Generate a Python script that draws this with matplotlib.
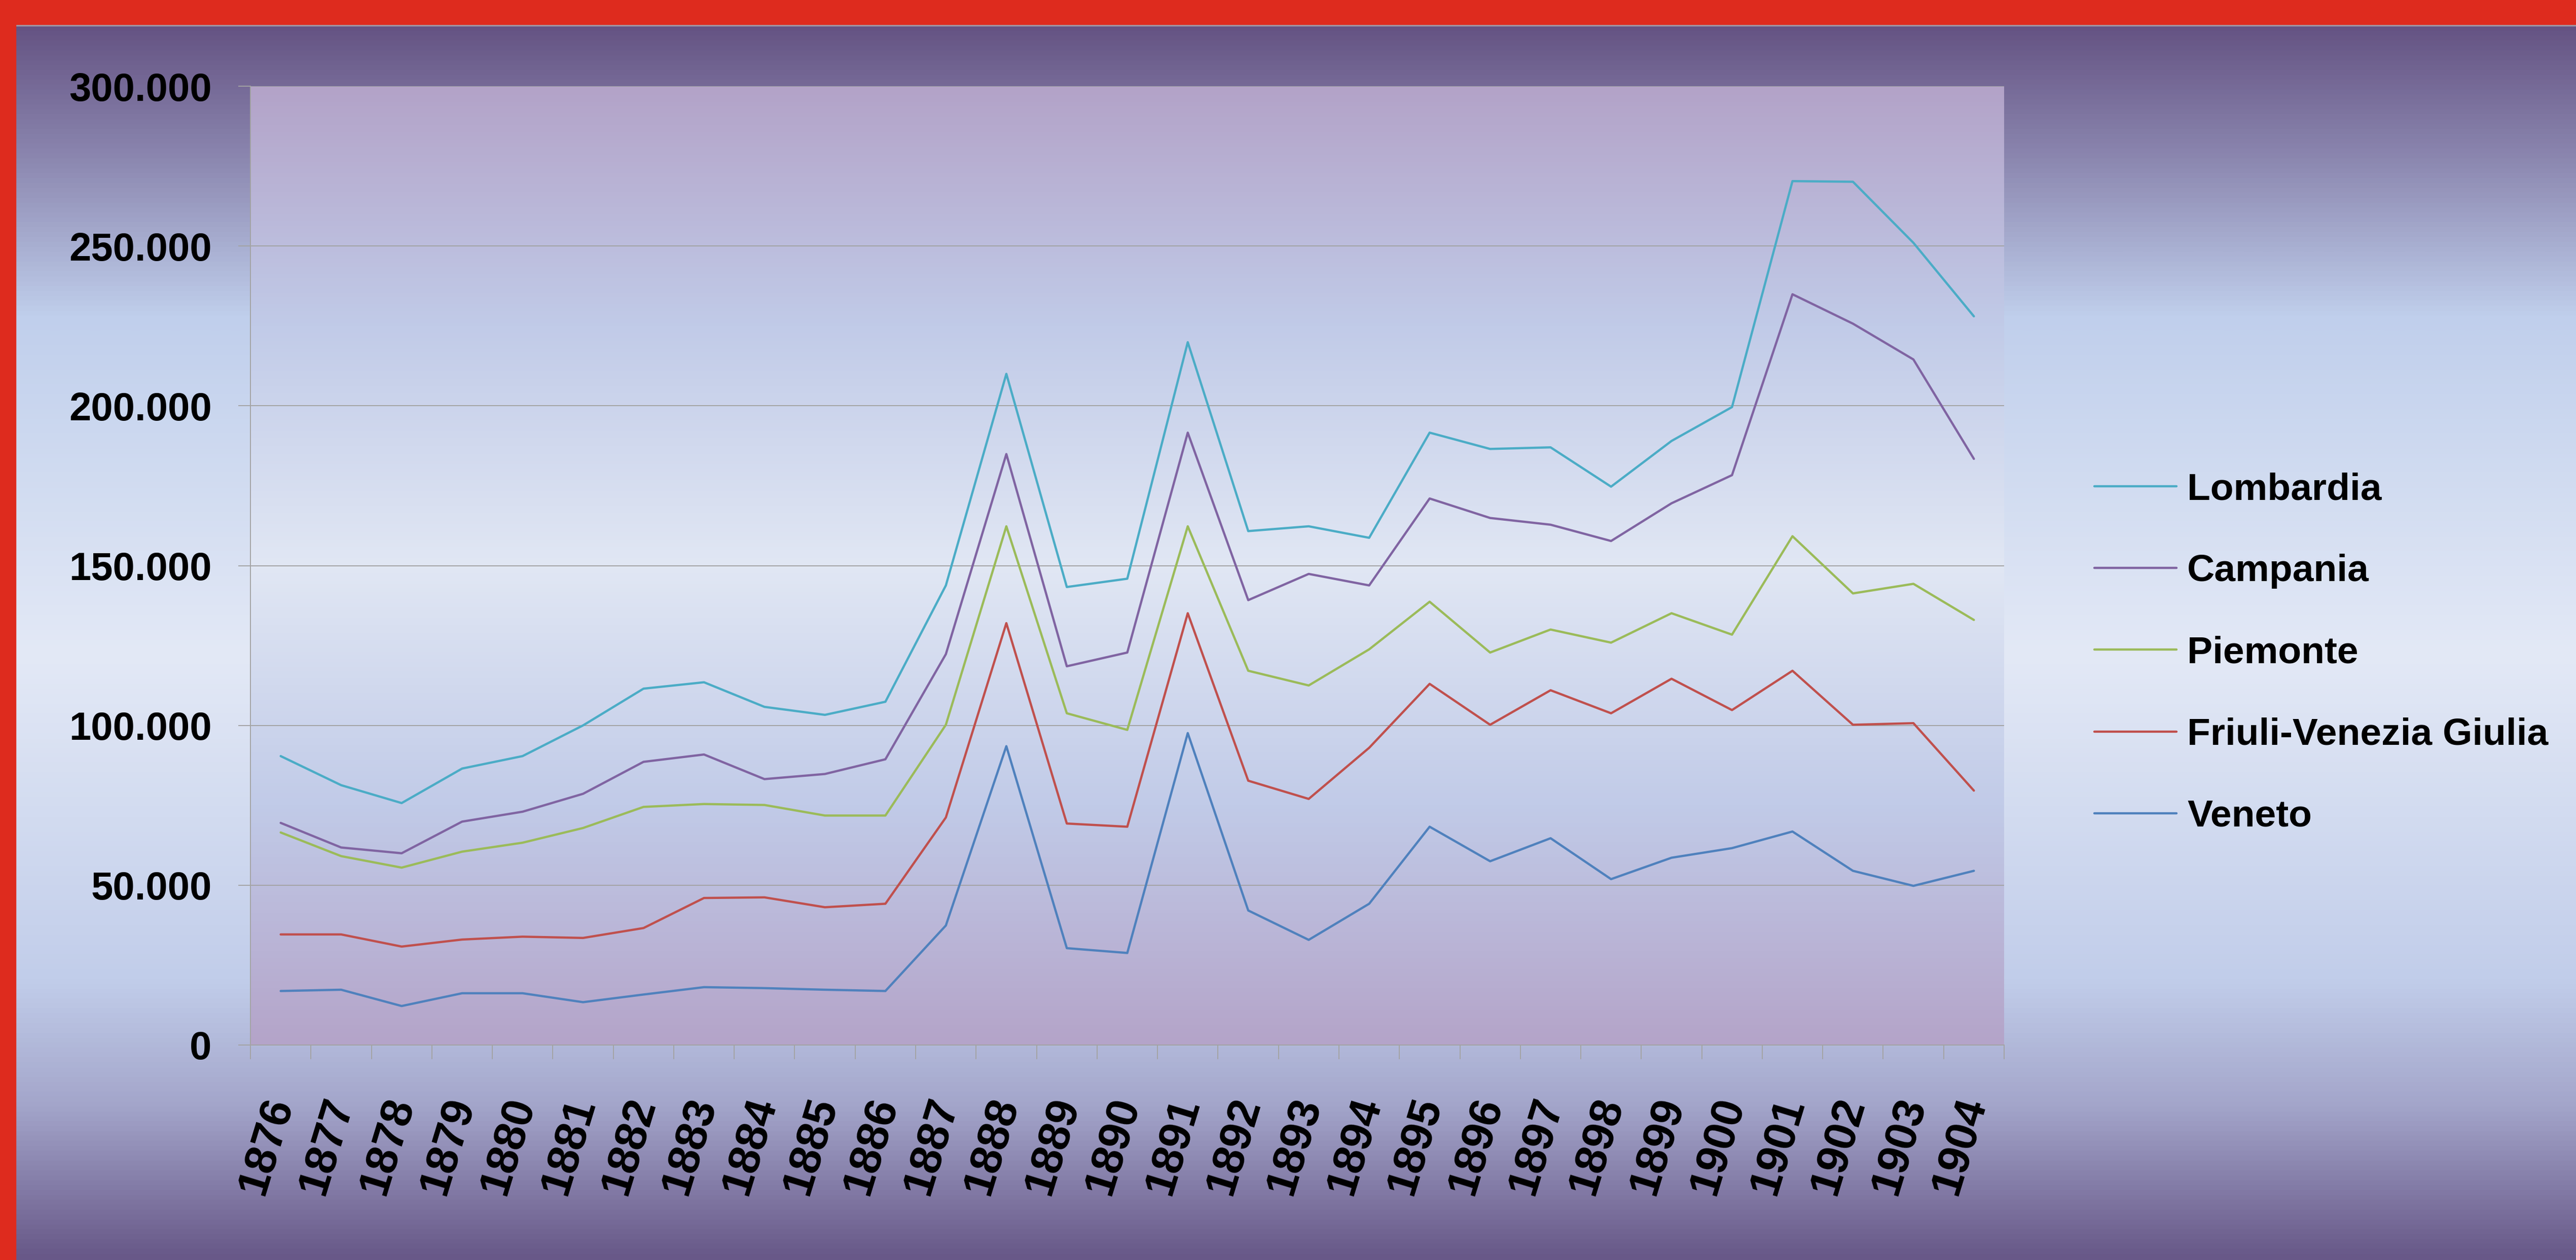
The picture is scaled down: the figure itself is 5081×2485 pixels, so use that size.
import numpy as np
import matplotlib.pyplot as plt
from matplotlib.colors import LinearSegmentedColormap
from matplotlib.patches import Rectangle
from matplotlib.ticker import FixedLocator, FuncFormatter
import matplotlib.transforms as mtransforms

years = ['1876', '1877', '1878', '1879', '1880', '1881', '1882', '1883', '1884', '1885',
         '1886', '1887', '1888', '1889', '1890', '1891', '1892', '1893', '1894', '1895',
         '1896', '1897', '1898', '1899', '1900', '1901', '1902', '1903', '1904']

lombardia = [90400, 81300, 75700, 86500, 90400, 100000, 111500, 113500, 105800, 103300,
             107400, 143800, 210000, 143300, 145900, 219900, 160800, 162300, 158700, 191600,
             186500, 187000, 174700, 189000, 199600, 270300, 270100, 251000, 228000]
campania = [69500, 61800, 60000, 69900, 73000, 78600, 88600, 90900, 83200, 84800,
            89400, 122300, 184900, 118500, 122800, 191600, 139200, 147400, 143800, 171000,
            164900, 162800, 157700, 169500, 178300, 234900, 225700, 214500, 183400]
piemonte = [66500, 59100, 55500, 60500, 63300, 67900, 74500, 75400, 75100, 71800,
            71800, 100200, 162300, 103800, 98600, 162300, 117100, 112500, 123800, 138700,
            122800, 130000, 125900, 135100, 128400, 159200, 141300, 144300, 133000]
friuli = [34600, 34600, 30800, 33000, 33900, 33500, 36600, 46000, 46200, 43100,
          44200, 71200, 132000, 69300, 68300, 135100, 82700, 77000, 93000, 113000,
          100200, 111000, 103800, 114600, 104800, 117100, 100200, 100700, 79600]
veneto = [16900, 17300, 12200, 16200, 16200, 13400, 15800, 18100, 17800, 17300,
          16900, 37400, 93500, 30300, 28800, 97600, 42100, 32900, 44200, 68300,
          57500, 64700, 51900, 58600, 61600, 66800, 54500, 49800, 54500]

series = [('Lombardia', lombardia, '#4bacc6'),
          ('Campania', campania, '#8064a2'),
          ('Piemonte', piemonte, '#9bbb59'),
          ('Friuli-Venezia Giulia', friuli, '#c0504d'),
          ('Veneto', veneto, '#4f81bd')]

W, H, DPI = 5081, 2485, 100
font = ['Liberation Sans', 'DejaVu Sans']

fig = plt.figure(figsize=(W / DPI, H / DPI), dpi=DPI)

# slide background gradient
bg = fig.add_axes([0, 0, 1, 1], zorder=-10)
bg_cmap = LinearSegmentedColormap.from_list('bg', [
    (0.0, '#5e4a7b'), (0.12, '#8a85ae'), (0.25, '#c0cfec'), (0.52, '#e3e9f6'),
    (0.78, '#c1cdea'), (0.88, '#a3a5ca'), (1.0, '#685888')])
bg.imshow(np.linspace(0, 1, 512).reshape(-1, 1), cmap=bg_cmap, aspect='auto',
          extent=[0, 1, 0, 1], interpolation='bilinear')
bg.set_axis_off()

# red frame at top and left
fig.patches.append(Rectangle((0, 1 - 48 / H), 1, 48 / H, transform=fig.transFigure,
                             color='#de2b1e', zorder=5))
fig.patches.append(Rectangle((0, 1 - 51 / H), 1, 3 / H, transform=fig.transFigure,
                             color='#a09aa8', zorder=4))
fig.patches.append(Rectangle((0, 0), 31 / W, 1, transform=fig.transFigure,
                             color='#de2b1e', zorder=5))

pos = [494 / W, 1 - 2061 / H, (3953 - 494) / W, (2061 - 170) / H]

# plot area gradient
pa = fig.add_axes(pos, zorder=-5)
pa_cmap = LinearSegmentedColormap.from_list('pa', [
    (0.0, '#b3a3c8'), (0.25, '#c1cbe8'), (0.5, '#e1e7f4'), (0.75, '#c1cbe8'), (1.0, '#b4a4c9')])
pa.imshow(np.linspace(0, 1, 512).reshape(-1, 1), cmap=pa_cmap, aspect='auto',
          extent=[0, 1, 0, 1], interpolation='bilinear')
pa.set_axis_off()

ax = fig.add_axes(pos)
ax.set_facecolor('none')
x = np.arange(len(years))
for name, vals, col in series:
    ax.plot(x, vals, color=col, linewidth=3.2, label=name, solid_joinstyle='round',
            solid_capstyle='round', zorder=3)

ax.set_xlim(-0.5, len(years) - 0.5)
ax.set_ylim(0, 300000)
ax.set_yticks(range(0, 300001, 50000))
ax.yaxis.set_major_formatter(FuncFormatter(lambda v, p: f'{int(v):,}'.replace(',', '.')))
ax.grid(axis='y', color='#a3a3a3', linewidth=1.4, zorder=1)
ax.set_axisbelow(True)

for s in ['top', 'right']:
    ax.spines[s].set_visible(False)
for s in ['left', 'bottom']:
    ax.spines[s].set_color('#a3a3a3')
    ax.spines[s].set_linewidth(1.4)

ax.tick_params(axis='y', length=17, width=1.4, color='#a3a3a3', pad=38)
for lab in ax.get_yticklabels():
    lab.set_family(font)
    lab.set_fontsize(56)
    lab.set_fontweight('bold')

ax.set_xticks(x)
ax.set_xticklabels(years, rotation=73, ha='center', va='top',
                   fontsize=63, fontweight='bold', family=font)
ax.xaxis.set_minor_locator(FixedLocator(np.arange(-0.5, len(years), 1)))
ax.tick_params(axis='x', which='major', length=0, pad=68)
ax.tick_params(axis='x', which='minor', length=20, width=1.4, color='#a3a3a3')
shift = mtransforms.ScaledTranslation(-28 / DPI, 0, fig.dpi_scale_trans)
for lab in ax.get_xticklabels():
    lab.set_transform(lab.get_transform() + shift)

leg = ax.legend(loc='center left', bbox_to_anchor=(4131 / W, 1 - 1288 / H),
                bbox_transform=fig.transFigure, frameon=False, borderpad=0,
                borderaxespad=0, handlelength=2.16, handletextpad=0.28,
                labelspacing=1.23,
                prop={'family': font, 'weight': 'bold', 'size': 54})
for h in leg.get_lines():
    h.set_linewidth(3.2)

fig.savefig('out.png', dpi=DPI)
